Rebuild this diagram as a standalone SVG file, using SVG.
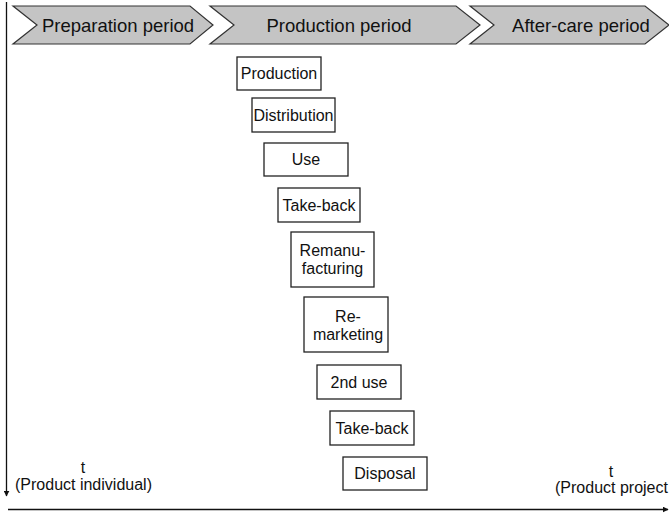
<svg xmlns="http://www.w3.org/2000/svg" width="669" height="515" viewBox="0 0 669 515">
  <style>
    text { font-family: "Liberation Sans", Arial, sans-serif; fill: #111; }
    .phase { fill: #c4c4c4; stroke: #333; stroke-width: 1.2; stroke-linejoin: miter; }
    .phase-label { font-size: 18.5px; text-anchor: middle; }
    .step { fill: #fff; stroke: #222; stroke-width: 1.3; }
    .step-label { font-size: 16px; text-anchor: middle; }
    .axis { stroke: #111; stroke-width: 1.3; fill: none; }
    .axis-label { font-size: 16px; }
  </style>
  <defs>
    <marker id="arrow" viewBox="0 0 10 10" refX="9" refY="5" markerWidth="6" markerHeight="6" markerUnits="userSpaceOnUse" orient="auto">
      <path d="M0,0 L10,5 L0,10 z" fill="#111"/>
    </marker>
  </defs>

  <!-- period chevrons -->
  <g id="phase-preparation">
    <polygon class="phase" points="13,6 190,6 213,25 190,44 13,44 37,25"/>
    <text class="phase-label" x="118" y="31.5">Preparation period</text>
  </g>
  <g id="phase-production">
    <polygon class="phase" points="210,6 456,6 480,25 456,44 210,44 234,25"/>
    <text class="phase-label" x="339" y="31.5">Production period</text>
  </g>
  <g id="phase-aftercare">
    <polygon class="phase" points="470,6 645,6 669,25 645,44 470,44 494,25"/>
    <text class="phase-label" x="581" y="31.5">After-care period</text>
  </g>

  <!-- life-cycle steps -->
  <g id="step-production">
    <rect class="step" x="237" y="57" width="84" height="33"/>
    <text class="step-label" x="279" y="79">Production</text>
  </g>
  <g id="step-distribution">
    <rect class="step" x="252" y="98" width="83" height="34"/>
    <text class="step-label" x="293.5" y="121">Distribution</text>
  </g>
  <g id="step-use">
    <rect class="step" x="264" y="143" width="84" height="33"/>
    <text class="step-label" x="306" y="165">Use</text>
  </g>
  <g id="step-takeback-1">
    <rect class="step" x="278" y="188" width="82" height="34"/>
    <text class="step-label" x="319" y="211">Take-back</text>
  </g>
  <g id="step-remanufacturing">
    <rect class="step" x="291" y="232" width="83" height="55"/>
    <text class="step-label" x="332.5" y="255.5">Remanu-</text>
    <text class="step-label" x="332.5" y="273.5">facturing</text>
  </g>
  <g id="step-remarketing">
    <rect class="step" x="304" y="297" width="84" height="55"/>
    <text class="step-label" x="348" y="322">Re-</text>
    <text class="step-label" x="348" y="340">marketing</text>
  </g>
  <g id="step-second-use">
    <rect class="step" x="317" y="365" width="84" height="34"/>
    <text class="step-label" x="359" y="388">2nd use</text>
  </g>
  <g id="step-takeback-2">
    <rect class="step" x="330" y="411" width="84" height="34"/>
    <text class="step-label" x="372" y="434">Take-back</text>
  </g>
  <g id="step-disposal">
    <rect class="step" x="343" y="457" width="84" height="33"/>
    <text class="step-label" x="385" y="479">Disposal</text>
  </g>

  <!-- time axes -->
  <g id="connectors">
    <line class="axis" x1="6.5" y1="2" x2="6.5" y2="496" marker-end="url(#arrow)"/>
    <line class="axis" x1="8" y1="509.5" x2="668" y2="509.5" marker-end="url(#arrow)"/>
  </g>

  <!-- axis labels -->
  <g id="label-individual">
    <text class="axis-label" x="83" y="473" text-anchor="middle">t</text>
    <text class="axis-label" x="15" y="490">(Product individual)</text>
  </g>
  <g id="label-project">
    <text class="axis-label" x="611" y="477" text-anchor="middle">t</text>
    <text class="axis-label" x="555" y="493">(Product project</text>
  </g>
</svg>
